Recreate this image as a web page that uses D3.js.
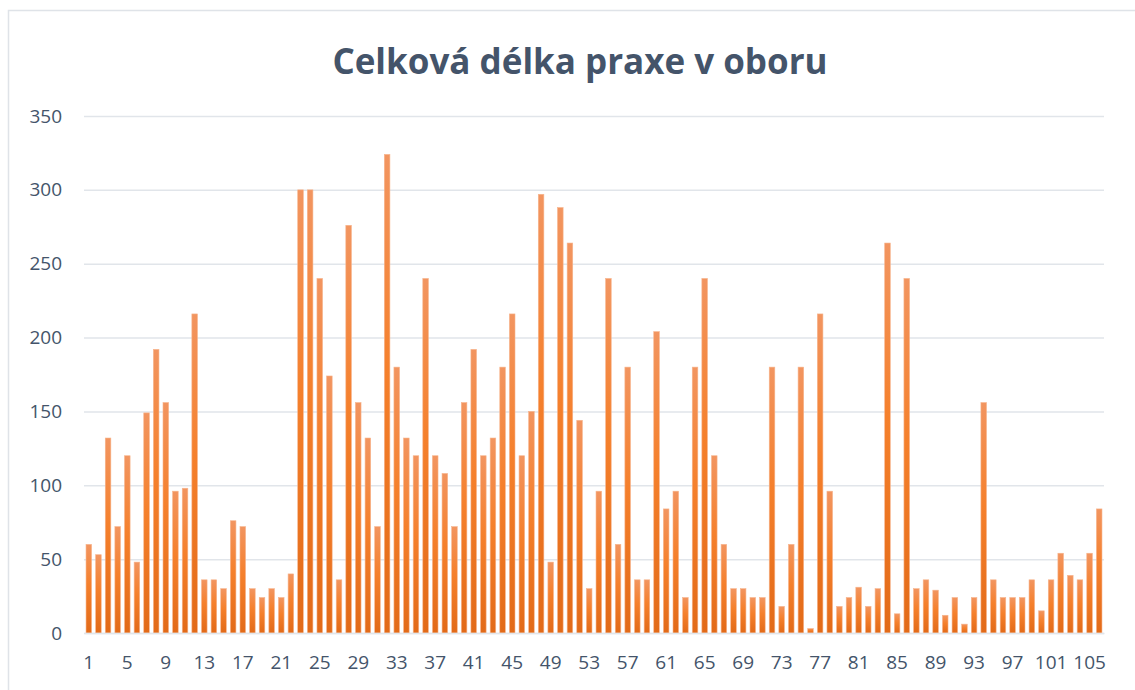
<!DOCTYPE html>
<html>
<head>
<meta charset="utf-8">
<script src="https://cdn.jsdelivr.net/npm/d3@7"></script>
<style>
  body { margin: 0; background: #fff; }
  svg { display: block; font-family: "Open Sans", sans-serif; }
</style>
</head>
<body>
<div class="chart"></div>
<script>
var title = "Celková délka praxe v oboru";

var categories = d3.range(1, 107);

var values = [
  60, 53, 132, 72, 120, 48, 149, 192, 156, 96,
  98, 216, 36, 36, 30, 76, 72, 30, 24, 30,
  24, 40, 300, 300, 240, 174, 36, 276, 156, 132,
  72, 324, 180, 132, 120, 240, 120, 108, 72, 156,
  192, 120, 132, 180, 216, 120, 150, 297, 48, 288,
  264, 144, 30, 96, 240, 60, 180, 36, 36, 204,
  84, 96, 24, 180, 240, 120, 60, 30, 30, 24,
  24, 180, 18, 60, 180, 3, 216, 96, 18, 24,
  31, 18, 30, 264, 13, 240, 30, 36, 29, 12,
  24, 6, 24, 156, 36, 24, 24, 24, 36, 15,
  36, 54, 39, 36, 54, 84
];

var yTicks = [0, 50, 100, 150, 200, 250, 300, 350];
var xTickLabels = categories.filter(function(d) { return (d - 1) % 4 === 0; });

var width = 1135, height = 690;
var margin = {top: 116, right: 31, bottom: 57, left: 84};
var plotW = width - margin.left - margin.right;
var plotH = height - margin.top - margin.bottom;

var svg = d3.select(".chart").append("svg")
  .attr("width", width)
  .attr("height", height);

// gradient for bars
var defs = svg.append("defs");
var grad = defs.append("linearGradient")
  .attr("id", "barGrad")
  .attr("x1", 0).attr("y1", 0).attr("x2", 0).attr("y2", 1);
grad.append("stop").attr("offset", "0%").attr("stop-color", "#f29560");
grad.append("stop").attr("offset", "45%").attr("stop-color", "#f5802c");
grad.append("stop").attr("offset", "100%").attr("stop-color", "#e26a18");

// chart frame
svg.append("rect")
  .attr("x", 8.5).attr("y", 10.5)
  .attr("width", 1140).attr("height", 700)
  .attr("fill", "none")
  .attr("stroke", "#dfe3e8")
  .attr("stroke-width", 1.5);

svg.append("text")
  .attr("x", 580)
  .attr("y", 74)
  .attr("text-anchor", "middle")
  .attr("fill", "#44546a")
  .style("font-size", "35px")
  .style("font-weight", "bold")
  .text(title);

var x = d3.scaleBand()
  .domain(categories)
  .range([0, plotW])
  .paddingInner(0.42)
  .paddingOuter(0.21);

var y = d3.scaleLinear()
  .domain([0, 350])
  .range([plotH, 0]);

var g = svg.append("g")
  .attr("transform", "translate(" + margin.left + "," + margin.top + ")");

// gridlines
var yAxis = d3.axisLeft(y)
  .tickValues(yTicks)
  .tickSize(-plotW)
  .tickPadding(22);

var gY = g.append("g").call(yAxis);
gY.select(".domain").remove();
gY.selectAll(".tick line")
  .attr("stroke", "#e1e5ea")
  .attr("stroke-width", 1.5);
gY.selectAll(".tick text")
  .attr("fill", "#44546a")
  .style("font-size", "19px")
  .style("font-family", "'Open Sans', sans-serif");

g.selectAll(".bar")
  .data(values)
  .enter().append("rect")
    .attr("class", "bar")
    .attr("x", function(d, i) { return x(categories[i]); })
    .attr("y", function(d) { return y(d); })
    .attr("width", x.bandwidth())
    .attr("height", function(d) { return plotH - y(d); })
    .attr("fill", "url(#barGrad)")
    .attr("stroke", "#f7b48c")
    .attr("stroke-width", 0.6);

var xAxis = d3.axisBottom(x)
  .tickValues(xTickLabels)
  .tickSize(0)
  .tickPadding(23);

var gX = g.append("g")
  .attr("transform", "translate(0," + plotH + ")")
  .call(xAxis);
gX.select(".domain")
  .attr("stroke", "#e1e5ea")
  .attr("stroke-width", 1.5);
gX.selectAll(".tick text")
  .attr("fill", "#44546a")
  .style("font-size", "19px")
  .style("font-family", "'Open Sans', sans-serif");
</script>
</body>
</html>
